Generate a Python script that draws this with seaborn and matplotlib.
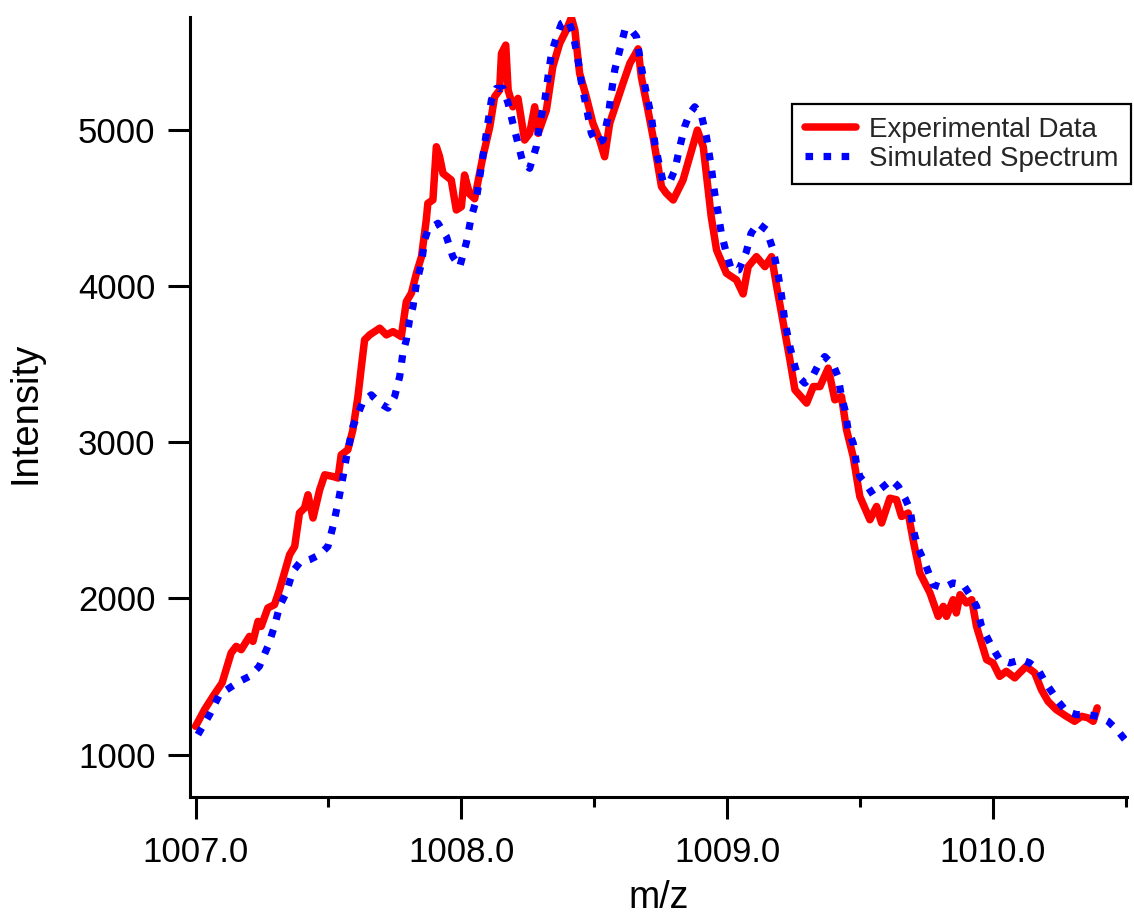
import numpy as np
import pandas as pd
import matplotlib
matplotlib.use("Agg")
import matplotlib.pyplot as plt
from matplotlib.ticker import MultipleLocator, FormatStrFormatter
import seaborn as sns

# Experimental isotope envelope (m/z, intensity)
mz_exp = [
    1007.000, 1007.034, 1007.070, 1007.100, 1007.134, 1007.153, 1007.172, 1007.203,
    1007.216, 1007.235, 1007.247, 1007.272, 1007.297, 1007.316, 1007.341, 1007.354,
    1007.373, 1007.391, 1007.410, 1007.423, 1007.442, 1007.467, 1007.486, 1007.517,
    1007.536, 1007.548, 1007.573, 1007.592, 1007.611, 1007.624, 1007.636, 1007.655,
    1007.693, 1007.718, 1007.743, 1007.774, 1007.793, 1007.812, 1007.831, 1007.850,
    1007.868, 1007.874, 1007.893, 1007.906, 1007.918, 1007.931, 1007.962, 1007.981,
    1008.000, 1008.012, 1008.031, 1008.050, 1008.081, 1008.107, 1008.125, 1008.144,
    1008.151, 1008.167, 1008.176, 1008.194, 1008.213, 1008.238, 1008.257, 1008.276,
    1008.289, 1008.320, 1008.344, 1008.370, 1008.395, 1008.414, 1008.427, 1008.445,
    1008.470, 1008.495, 1008.520, 1008.539, 1008.558, 1008.583, 1008.608, 1008.634,
    1008.652, 1008.665, 1008.677, 1008.702, 1008.721, 1008.740, 1008.753, 1008.771,
    1008.797, 1008.834, 1008.859, 1008.888, 1008.910, 1008.940, 1008.960, 1008.997,
    1009.035, 1009.060, 1009.079, 1009.110, 1009.142, 1009.167, 1009.186, 1009.211,
    1009.236, 1009.255, 1009.299, 1009.324, 1009.349, 1009.380, 1009.405, 1009.430,
    1009.449, 1009.474, 1009.499, 1009.537, 1009.562, 1009.581, 1009.612, 1009.637,
    1009.656, 1009.681, 1009.700, 1009.725, 1009.763, 1009.794, 1009.813, 1009.825,
    1009.850, 1009.862, 1009.876, 1009.900, 1009.920, 1009.938, 1009.957, 1009.976,
    1010.000, 1010.025, 1010.050, 1010.082, 1010.100, 1010.125, 1010.157, 1010.182,
    1010.207, 1010.238, 1010.276, 1010.307, 1010.333, 1010.358, 1010.377, 1010.392,
]
int_exp = [
    1181, 1288, 1384, 1459, 1651, 1693, 1672, 1757,
    1725, 1853, 1821, 1939, 1960, 2056, 2205, 2280,
    2333, 2547, 2579, 2664, 2515, 2696, 2792, 2781,
    2771, 2920, 2952, 3080, 3293, 3485, 3656, 3688,
    3731, 3688, 3709, 3677, 3901, 3955, 4083, 4189,
    4424, 4531, 4552, 4893, 4830, 4722, 4680, 4488,
    4509, 4712, 4590, 4560, 4829, 5021, 5213, 5256,
    5491, 5544, 5256, 5149, 5203, 4936, 4979, 5149,
    4979, 5128, 5405, 5555, 5640, 5720, 5640, 5363,
    5213, 5043, 4936, 4829, 5043, 5171, 5299, 5427,
    5480, 5520, 5341, 5128, 4957, 4765, 4637, 4595,
    4552, 4680, 4829, 5000, 4893, 4445, 4232, 4083,
    4040, 3950, 4125, 4189, 4125, 4189, 4000, 3763,
    3528, 3336, 3251, 3357, 3357, 3475, 3272, 3293,
    3080, 2909, 2653, 2504, 2589, 2483, 2642, 2632,
    2525, 2547, 2370, 2163, 2035, 1885, 1949, 1885,
    1992, 1907, 2024, 1971, 1992, 1821, 1715, 1608,
    1587, 1501, 1533, 1491, 1523, 1565, 1523, 1416,
    1341, 1288, 1245, 1213, 1245, 1235, 1213, 1299,
]

# Simulated isotope envelope (m/z, intensity)
mz_sim = [
    1007.009, 1007.053, 1007.090, 1007.128, 1007.166, 1007.203, 1007.240, 1007.272,
    1007.297, 1007.316, 1007.341, 1007.366, 1007.391, 1007.429, 1007.467, 1007.498,
    1007.517, 1007.536, 1007.555, 1007.567, 1007.592, 1007.630, 1007.661, 1007.693,
    1007.724, 1007.749, 1007.768, 1007.780, 1007.793, 1007.805, 1007.818, 1007.831,
    1007.850, 1007.862, 1007.874, 1007.912, 1007.944, 1007.968, 1007.994, 1008.019,
    1008.037, 1008.056, 1008.075, 1008.094, 1008.113, 1008.132, 1008.157, 1008.176,
    1008.194, 1008.213, 1008.232, 1008.257, 1008.282, 1008.295, 1008.314, 1008.326,
    1008.339, 1008.358, 1008.377, 1008.402, 1008.420, 1008.439, 1008.452, 1008.470,
    1008.489, 1008.508, 1008.533, 1008.552, 1008.564, 1008.577, 1008.596, 1008.615,
    1008.634, 1008.659, 1008.677, 1008.696, 1008.715, 1008.728, 1008.746, 1008.759,
    1008.784, 1008.803, 1008.822, 1008.840, 1008.859, 1008.878, 1008.903, 1008.922,
    1008.940, 1008.953, 1008.966, 1008.978, 1008.997, 1009.016, 1009.044, 1009.072,
    1009.090, 1009.116, 1009.148, 1009.173, 1009.192, 1009.205, 1009.217, 1009.236,
    1009.255, 1009.267, 1009.292, 1009.324, 1009.343, 1009.367, 1009.399, 1009.417,
    1009.430, 1009.443, 1009.455, 1009.474, 1009.486, 1009.499, 1009.524, 1009.549,
    1009.581, 1009.618, 1009.644, 1009.669, 1009.688, 1009.700, 1009.719, 1009.744,
    1009.775, 1009.813, 1009.850, 1009.888, 1009.913, 1009.938, 1009.957, 1009.976,
    1009.995, 1010.025, 1010.063, 1010.107, 1010.138, 1010.170, 1010.194, 1010.220,
    1010.245, 1010.276, 1010.314, 1010.352, 1010.396, 1010.433, 1010.466, 1010.491,
    1010.520,
]
int_sim = [
    1128, 1256, 1384, 1427, 1469, 1501, 1565, 1693,
    1821, 1949, 2035, 2173, 2227, 2248, 2280, 2333,
    2461, 2611, 2781, 2899, 3101, 3261, 3304, 3251,
    3219, 3293, 3421, 3571, 3656, 3784, 3869, 4019,
    4147, 4296, 4360, 4403, 4317, 4189, 4125, 4280,
    4440, 4552, 4765, 4979, 5192, 5267, 5267, 5171,
    5043, 4915, 4787, 4755, 4893, 5043, 5192, 5341,
    5491, 5597, 5683, 5704, 5619, 5448, 5299, 5149,
    4979, 4915, 4936, 5085, 5235, 5384, 5512, 5640,
    5651, 5597, 5405, 5235, 5085, 4915, 4765, 4669,
    4669, 4744, 4893, 5021, 5107, 5149, 5096, 4957,
    4765, 4595, 4467, 4339, 4211, 4104, 4104, 4220,
    4339, 4403, 4360, 4232, 4072, 3933, 3773, 3613,
    3485, 3421, 3379, 3432, 3496, 3549, 3496, 3421,
    3293, 3208, 3080, 2995, 2867, 2781, 2728, 2664,
    2707, 2760, 2717, 2642, 2568, 2440, 2320, 2227,
    2088, 2067, 2099, 2088, 2024, 1949, 1821, 1757,
    1693, 1608, 1587, 1608, 1587, 1544, 1469, 1405,
    1341, 1277, 1256, 1256, 1245, 1213, 1160, 1107,
    1050,
]

series_labels = ["Experimental Data", "Simulated Spectrum"]
x_tick_values = [1007.0, 1008.0, 1009.0, 1010.0]
y_tick_values = [1000, 2000, 3000, 4000, 5000]

sns.set_theme(style="ticks")
plt.rcParams["font.family"] = ["Liberation Sans", "DejaVu Sans"]

exp_df = pd.DataFrame({"m/z": mz_exp, "Intensity": int_exp})
sim_df = pd.DataFrame({"m/z": mz_sim, "Intensity": int_sim})

fig = plt.figure(figsize=(11.34, 9.21), dpi=100)
ax = fig.add_axes([0.1675, 0.1341, 0.8263, 0.8471])

sns.lineplot(data=exp_df, x="m/z", y="Intensity", ax=ax, color="#ff0000",
             linewidth=5.4, estimator=None, errorbar=None, sort=False,
             label=series_labels[0], solid_joinstyle="round", solid_capstyle="round")
sns.lineplot(data=sim_df, x="m/z", y="Intensity", ax=ax, color="#0000ff",
             linewidth=5.2, estimator=None, errorbar=None, sort=False,
             linestyle=(0, (1.05, 1.45)), dash_capstyle="butt",
             label=series_labels[1])

ax.set_xlim(1006.979, 1010.504)
ax.set_ylim(725, 5722)

ax.set_xticks(x_tick_values)
ax.xaxis.set_major_formatter(FormatStrFormatter("%.1f"))
ax.xaxis.set_minor_locator(MultipleLocator(0.5))
ax.set_yticks(y_tick_values)

sns.despine(ax=ax)
for side in ("left", "bottom"):
    ax.spines[side].set_linewidth(2.2)
    ax.spines[side].set_color("black")

ax.tick_params(axis="both", which="major", direction="out", length=15.8,
               width=2.2, color="black", labelsize=25, pad=9, labelcolor="black")
ax.tick_params(axis="x", which="major", pad=12)
ax.tick_params(axis="x", which="minor", direction="out", length=7.2,
               width=2.2, color="black")
ax.tick_params(axis="y", which="minor", length=0)

ax.set_xlabel("m/z", fontsize=27, color="black", labelpad=8)
ax.set_ylabel("Intensity", fontsize=27.5, color="black")
ax.yaxis.set_label_coords(-0.156, 0.493)

leg = ax.legend(loc="upper right", bbox_to_anchor=(1131 / 1134, 1 - 104 / 921),
                bbox_transform=fig.transFigure, fontsize=20, frameon=True,
                fancybox=False, framealpha=1, edgecolor="black", borderaxespad=0,
                handlelength=1.86, handletextpad=0.46, borderpad=0.45,
                labelspacing=0.12)
leg.get_frame().set_linewidth(1.6)

fig.savefig("out.png", dpi=100)
